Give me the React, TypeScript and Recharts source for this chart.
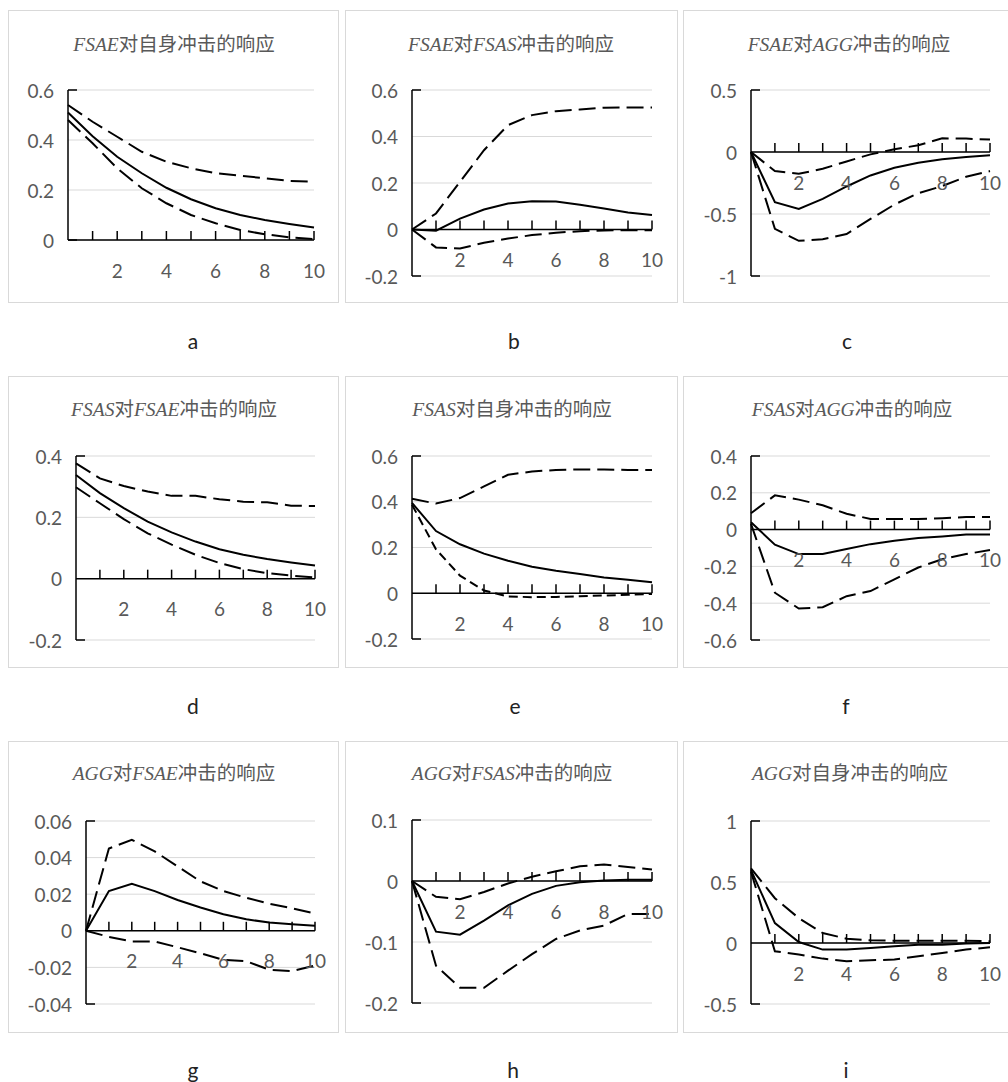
import React from 'react'
import { LineChart, Line, XAxis, YAxis, CartesianGrid, ReferenceLine } from 'recharts'

// periods after the shock
const periods = [0, 1, 2, 3, 4, 5, 6, 7, 8, 9, 10]
const xTicks = [1, 2, 3, 4, 5, 6, 7, 8, 9, 10]

// a: FSAE -> FSAE
const aMid = [0.51, 0.415, 0.333, 0.267, 0.209, 0.163, 0.127, 0.1, 0.08, 0.064, 0.05]
const aUp = [0.54, 0.473, 0.413, 0.353, 0.313, 0.287, 0.267, 0.257, 0.247, 0.236, 0.233]
const aLow = [0.48, 0.387, 0.287, 0.207, 0.147, 0.1, 0.067, 0.04, 0.023, 0.011, 0.004]
const aTicks = [0, 0.2, 0.4, 0.6]

// b: FSAE -> FSAS
const bMid = [0, -0.005, 0.047, 0.086, 0.112, 0.122, 0.12, 0.106, 0.09, 0.073, 0.062]
const bUp = [0, 0.069, 0.205, 0.341, 0.449, 0.492, 0.509, 0.516, 0.524, 0.525, 0.525]
const bLow = [0, -0.077, -0.082, -0.057, -0.039, -0.024, -0.014, -0.007, -0.004, -0.003, -0.003]
const bTicks = [-0.2, 0, 0.2, 0.4, 0.6]

// c: FSAE -> AGG
const cMid = [0, -0.405, -0.46, -0.378, -0.278, -0.189, -0.127, -0.086, -0.059, -0.04, -0.027]
const cUp = [0, -0.154, -0.176, -0.135, -0.076, -0.019, 0.022, 0.054, 0.11, 0.108, 0.1]
const cLow = [0, -0.62, -0.716, -0.703, -0.662, -0.54, -0.424, -0.332, -0.275, -0.2, -0.154]
const cTicks = [-1, -0.5, 0, 0.5]

// d: FSAS -> FSAE
const dMid = [0.338, 0.279, 0.23, 0.186, 0.151, 0.121, 0.096, 0.078, 0.064, 0.053, 0.043]
const dUp = [0.376, 0.327, 0.302, 0.284, 0.27, 0.27, 0.259, 0.251, 0.249, 0.238, 0.237]
const dLow = [0.298, 0.246, 0.194, 0.148, 0.111, 0.078, 0.051, 0.031, 0.018, 0.01, 0.004]
const dTicks = [-0.2, 0, 0.2, 0.4]

// e: FSAS -> FSAS
const eMid = [0.395, 0.272, 0.214, 0.173, 0.142, 0.116, 0.098, 0.084, 0.069, 0.059, 0.048]
const eUp = [0.413, 0.392, 0.416, 0.467, 0.518, 0.532, 0.539, 0.541, 0.541, 0.539, 0.539]
const eLow = [0.387, 0.192, 0.077, 0.012, -0.014, -0.017, -0.016, -0.013, -0.01, -0.007, -0.003]
const eTicks = [-0.2, 0, 0.2, 0.4, 0.6]

// f: FSAS -> AGG
const fMid = [0.04, -0.082, -0.133, -0.133, -0.106, -0.079, -0.06, -0.046, -0.037, -0.027, -0.027]
const fUp = [0.089, 0.186, 0.163, 0.132, 0.086, 0.058, 0.058, 0.058, 0.062, 0.068, 0.068]
const fLow = [0.031, -0.343, -0.429, -0.422, -0.362, -0.334, -0.27, -0.206, -0.161, -0.133, -0.111]
const fTicks = [-0.6, -0.4, -0.2, 0, 0.2, 0.4]

// g: AGG -> FSAE
const gMid = [0, 0.0217, 0.0257, 0.0217, 0.0168, 0.0127, 0.009, 0.0063, 0.0045, 0.0036, 0.0027]
const gUp = [0, 0.045, 0.0497, 0.0434, 0.0352, 0.027, 0.0217, 0.018, 0.0148, 0.0123, 0.0094]
const gLow = [0, -0.0033, -0.0058, -0.0058, -0.009, -0.0123, -0.0159, -0.0166, -0.0213, -0.022, -0.019]
const gTicks = [-0.04, -0.02, 0, 0.02, 0.04, 0.06]

// h: AGG -> FSAS
const hMid = [0, -0.083, -0.088, -0.065, -0.04, -0.021, -0.008, -0.002, 0.001, 0.002, 0.002]
const hUp = [0, -0.026, -0.03, -0.018, -0.004, 0.007, 0.016, 0.024, 0.027, 0.023, 0.019]
const hLow = [0, -0.139, -0.175, -0.175, -0.147, -0.12, -0.095, -0.081, -0.073, -0.054, -0.054]
const hTicks = [-0.2, -0.1, 0, 0.1]

// i: AGG -> AGG
const iMid = [0.598, 0.163, 0.008, -0.054, -0.054, -0.041, -0.027, -0.014, -0.014, -0.005, 0]
const iUp = [0.611, 0.367, 0.204, 0.082, 0.035, 0.022, 0.019, 0.019, 0.019, 0.019, 0.014]
const iLow = [0.584, -0.068, -0.095, -0.128, -0.149, -0.141, -0.136, -0.109, -0.082, -0.054, -0.035]
const iTicks = [-0.5, 0, 0.5, 1]

type TitlePart = [string, boolean]

const longDash = '17 7'
const shortDash = '9 5'

const panels = [
  { letter: 'a', title: [['FSAE', true], ['对自身冲击的响应', false]] as TitlePart[], mid: aMid, up: aUp, low: aLow, ticks: aTicks, lowDash: longDash,
    box: { x: 8, y: 10, w: 331, h: 293 }, plot: { l: 68, r: 314, t: 90, b: 240 }, titleX: 174, titleY: 43, letterX: 193, letterY: 341 },
  { letter: 'b', title: [['FSAE', true], ['对', false], ['FSAS', true], ['冲击的响应', false]] as TitlePart[], mid: bMid, up: bUp, low: bLow, ticks: bTicks, lowDash: longDash,
    box: { x: 345, y: 10, w: 333, h: 293 }, plot: { l: 412, r: 652, t: 90, b: 276 }, titleX: 511, titleY: 43, letterX: 514, letterY: 341 },
  { letter: 'c', title: [['FSAE', true], ['对', false], ['AGG', true], ['冲击的响应', false]] as TitlePart[], mid: cMid, up: cUp, low: cLow, ticks: cTicks, lowDash: longDash,
    box: { x: 683, y: 10, w: 330, h: 293 }, plot: { l: 751, r: 990, t: 90, b: 276 }, titleX: 849, titleY: 43, letterX: 847, letterY: 341 },
  { letter: 'd', title: [['FSAS', true], ['对', false], ['FSAE', true], ['冲击的响应', false]] as TitlePart[], mid: dMid, up: dUp, low: dLow, ticks: dTicks, lowDash: longDash,
    box: { x: 8, y: 376, w: 331, h: 292 }, plot: { l: 76, r: 315, t: 456, b: 640 }, titleX: 174, titleY: 408, letterX: 193, letterY: 706 },
  { letter: 'e', title: [['FSAS', true], ['对自身冲击的响应', false]] as TitlePart[], mid: eMid, up: eUp, low: eLow, ticks: eTicks, lowDash: shortDash,
    box: { x: 345, y: 376, w: 333, h: 292 }, plot: { l: 412, r: 652, t: 456, b: 639 }, titleX: 512, titleY: 408, letterX: 515, letterY: 706 },
  { letter: 'f', title: [['FSAS', true], ['对', false], ['AGG', true], ['冲击的响应', false]] as TitlePart[], mid: fMid, up: fUp, low: fLow, ticks: fTicks, lowDash: longDash,
    box: { x: 683, y: 376, w: 330, h: 292 }, plot: { l: 751, r: 990, t: 456, b: 640 }, titleX: 852, titleY: 408, letterX: 846, letterY: 706 },
  { letter: 'g', title: [['AGG', true], ['对', false], ['FSAE', true], ['冲击的响应', false]] as TitlePart[], mid: gMid, up: gUp, low: gLow, ticks: gTicks, lowDash: longDash,
    box: { x: 8, y: 741, w: 331, h: 292 }, plot: { l: 86, r: 315, t: 821, b: 1004 }, titleX: 174, titleY: 772, letterX: 193, letterY: 1070 },
  { letter: 'h', title: [['AGG', true], ['对', false], ['FSAS', true], ['冲击的响应', false]] as TitlePart[], mid: hMid, up: hUp, low: hLow, ticks: hTicks, lowDash: longDash,
    box: { x: 345, y: 741, w: 333, h: 292 }, plot: { l: 412, r: 652, t: 820, b: 1003 }, titleX: 512, titleY: 772, letterX: 513, letterY: 1070 },
  { letter: 'i', title: [['AGG', true], ['对自身冲击的响应', false]] as TitlePart[], mid: iMid, up: iUp, low: iLow, ticks: iTicks, lowDash: longDash,
    box: { x: 683, y: 741, w: 330, h: 292 }, plot: { l: 751, r: 990, t: 821, b: 1004 }, titleX: 850, titleY: 772, letterX: 846, letterY: 1070 },
]

const labelFont = 'Lato, "Liberation Sans", sans-serif'
const labelColor = '#595959'

function Panel({ p }: { p: (typeof panels)[number] }) {
  const { box, plot, ticks } = p
  const min = ticks[0]
  const max = ticks[ticks.length - 1]
  const xAxisH = 1
  const margin = { top: plot.t - box.y, bottom: box.y + box.h - plot.b - xAxisH, left: 1, right: box.x + box.w - plot.r }
  const yWidth = plot.l - box.x - 1
  const axisX = margin.left + yWidth
  const plotH = plot.b - plot.t
  const plotW = plot.r - plot.l
  const zeroY = margin.top + (plotH * max) / (max - min)
  // short stub length at the ends of the value axis, in period units
  const stub = (9 * 10) / plotW

  const data = periods.map((t, i) => ({ t, mid: p.mid[i], up: p.up[i], low: p.low[i] }))

  // x ticks sit on the zero line and point upward, labels hang below it
  const xTick = (props: any) => {
    const { x, payload } = props
    return (
      <g>
        <line x1={x} x2={x} y1={zeroY} y2={zeroY - 9} stroke='#000' strokeWidth={1.5} />
        {payload.value % 2 === 0 && (
          <text x={x} y={zeroY + 30} textAnchor='middle' dominantBaseline='central'
            fontFamily={labelFont} fontSize={19} fill={labelColor}>
            {payload.value}
          </text>
        )}
      </g>
    )
  }

  const yTick = (props: any) => {
    const { y, payload } = props
    return (
      <text x={axisX - 14} y={y} textAnchor='end' dominantBaseline='central'
        fontFamily={labelFont} fontSize={19} fill={labelColor}>
        {String(payload.value)}
      </text>
    )
  }

  return (
    <>
      <div style={{ position: 'absolute', left: box.x, top: box.y, width: box.w, height: box.h,
        border: '1px solid #d9d9d9', boxSizing: 'border-box' }} />
      <div style={{ position: 'absolute', left: box.x, top: box.y }}>
        <LineChart width={box.w} height={box.h} data={data} margin={margin}>
          <CartesianGrid vertical={false} stroke='#d9d9d9' />
          <XAxis dataKey='t' type='number' domain={[0, 10]} ticks={xTicks} interval={0}
            axisLine={false} tickLine={false} height={xAxisH} tick={xTick} />
          <YAxis type='number' domain={[min, max]} ticks={ticks} interval={0} width={yWidth}
            axisLine={{ stroke: '#000', strokeWidth: 1.5 }} tickLine={false} tickSize={0} tickMargin={14} tick={yTick} />
          <ReferenceLine y={0} stroke='#000' strokeWidth={1.5} />
          <ReferenceLine segment={[{ x: 0, y: max }, { x: stub, y: max }]} stroke='#000' strokeWidth={1.5} />
          <ReferenceLine segment={[{ x: 0, y: min }, { x: stub, y: min }]} stroke='#000' strokeWidth={1.5} />
          <Line dataKey='up' stroke='#000' strokeWidth={2} strokeDasharray={longDash} dot={false} isAnimationActive={false} />
          <Line dataKey='low' stroke='#000' strokeWidth={2} strokeDasharray={p.lowDash} dot={false} isAnimationActive={false} />
          <Line dataKey='mid' stroke='#000' strokeWidth={2} dot={false} isAnimationActive={false} />
        </LineChart>
      </div>
      <div style={{ position: 'absolute', left: p.titleX - 150, width: 300, top: p.titleY - 13, height: 26,
        lineHeight: '26px', textAlign: 'center', fontSize: 19.5, color: labelColor, whiteSpace: 'nowrap',
        fontFamily: '"Noto Sans CJK SC", sans-serif' }}>
        {p.title.map(([s, it], k) => (
          <span key={k} style={it ? { fontFamily: '"Liberation Serif", serif', fontStyle: 'italic' } : undefined}>{s}</span>
        ))}
      </div>
      <div style={{ position: 'absolute', left: p.letterX - 20, width: 40, top: p.letterY - 14, height: 28,
        lineHeight: '28px', textAlign: 'center', fontSize: 21, color: '#222', fontFamily: labelFont }}>
        {p.letter}
      </div>
    </>
  )
}

export default function App() {
  return (
    <div style={{ position: 'absolute', left: 0, top: 0, width: 1008, height: 1082, overflow: 'hidden', background: '#fff' }}>
      {panels.map((p) => (
        <Panel key={p.letter} p={p} />
      ))}
    </div>
  )
}
